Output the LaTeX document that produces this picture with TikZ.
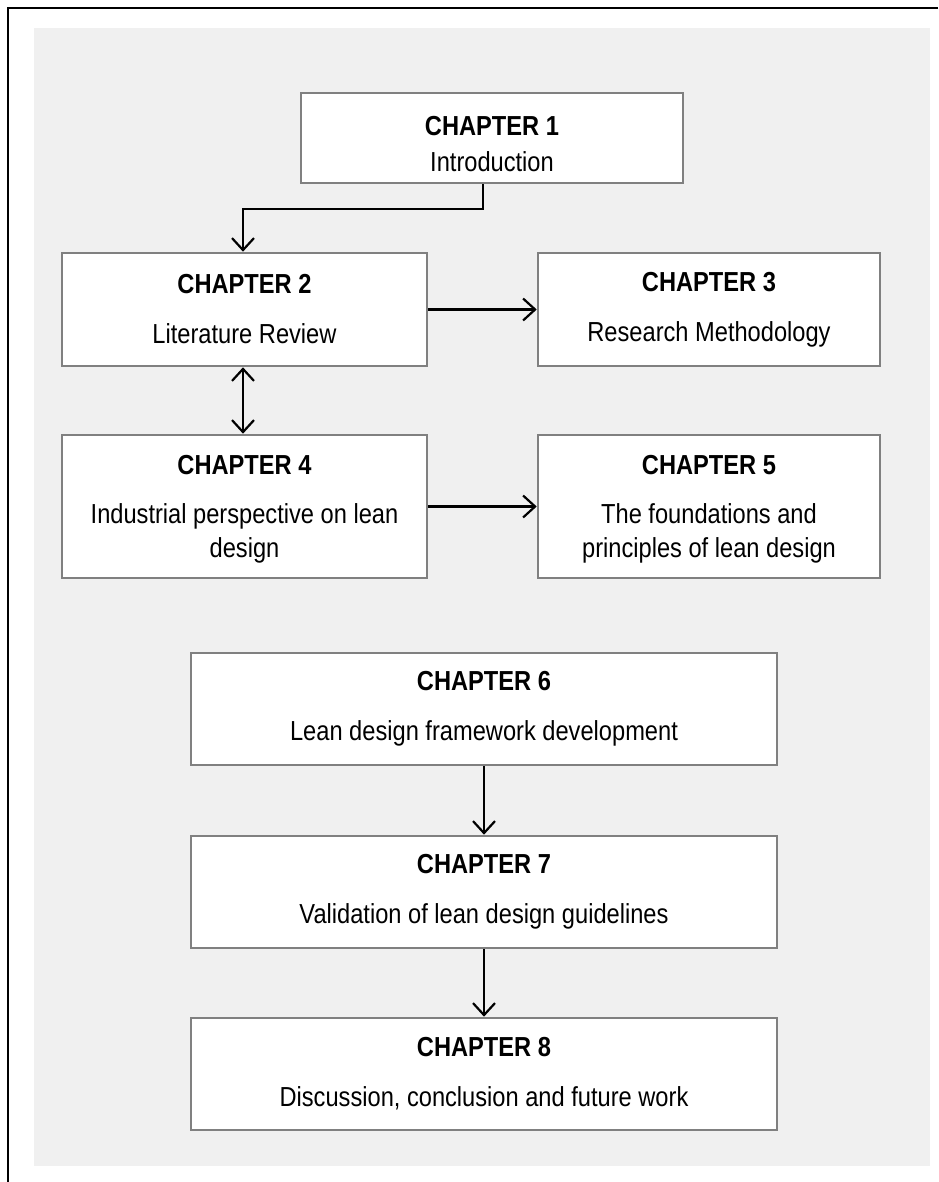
\documentclass[tikz,border=0pt]{standalone}
\usepackage{fontspec}
\setmainfont{Liberation Sans}[FakeStretch=0.86]
\usetikzlibrary{arrows.meta,calc}
\definecolor{bggray}{HTML}{F0F0F0}
\definecolor{boxline}{HTML}{808080}
\tikzset{
  chapbox/.style={draw=boxline, line width=2.6pt, fill=white, rectangle, inner sep=0pt,
    align=center, font=\fontsize{27.5}{34}\selectfont},
  chaptext/.style={align=center, inner sep=0pt, font=\fontsize{27.5}{34}\selectfont},
  mybarb/.tip={Straight Barb[length=12pt,width=22pt,line width=2.2pt]},
  arr/.style={draw=black, line width=2.2pt, -{mybarb}},
  darr/.style={draw=black, line width=2.2pt, {mybarb}-{mybarb}}
}
\begin{document}
\begin{tikzpicture}[x=1pt,y=-1pt]
\useasboundingbox (0,0) rectangle (938,1182);
\fill[bggray] (34,28) rectangle (930,1166);
\draw[line width=2.6pt] (938,8) -- (8,8) -- (8,1182);

\node[chapbox, minimum width=382pt, minimum height=90pt] (c1) at (492,138) {};
\node[chaptext] (c1t) at ([yshift=-6pt]c1.center)
  {\textbf{CHAPTER 1}\\[2pt]Introduction};
\node[chapbox, minimum width=365pt, minimum height=113pt] (c2) at (244.5,309.5)
  {\textbf{CHAPTER 2}\\[16pt]Literature Review};
\node[chapbox, minimum width=342pt, minimum height=113pt] (c3) at (709,309.5)
  {\textbf{CHAPTER 3}\\[16pt]Research Methodology};
\node[chapbox, minimum width=365pt, minimum height=143pt] (c4) at (244.5,506.5) {};
\node[chaptext] (c4t) at ([yshift=-3pt]c4.center)
  {\textbf{CHAPTER 4}\\[15pt]Industrial perspective on lean\\design};
\node[chapbox, minimum width=342pt, minimum height=143pt] (c5) at (709,506.5) {};
\node[chaptext] (c5t) at ([yshift=-3pt]c5.center)
  {\textbf{CHAPTER 5}\\[15pt]The foundations and\\principles of lean design};
\node[chapbox, minimum width=586pt, minimum height=112pt] (c6) at (484,709)
  {\textbf{CHAPTER 6}\\[16pt]Lean design framework development};
\node[chapbox, minimum width=586pt, minimum height=112pt] (c7) at (484,892)
  {\textbf{CHAPTER 7}\\[16pt]Validation of lean design guidelines};
\node[chapbox, minimum width=586pt, minimum height=112pt] (c8) at (484,1074)
  {\textbf{CHAPTER 8}\\[16pt]Discussion, conclusion and future work};

\draw[arr] ([xshift=-9pt]c1.south) -- ++(0,25) -| ([xshift=-1.5pt]c2.north);
\draw[arr] (c2.east) -- (c3.west);
\draw[darr] ([xshift=-1.5pt]c2.south) -- ([xshift=-1.5pt]c4.north);
\draw[arr] (c4.east) -- (c5.west);
\draw[arr] (c6.south) -- (c7.north);
\draw[arr] (c7.south) -- (c8.north);
\end{tikzpicture}
\end{document}
